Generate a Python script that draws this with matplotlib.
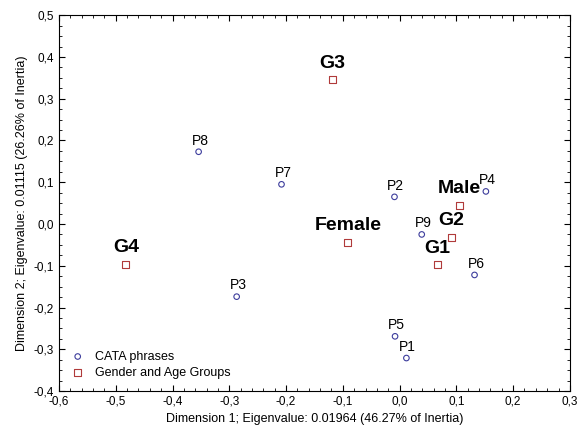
import matplotlib
matplotlib.use("Agg")
import matplotlib.pyplot as plt
from matplotlib.ticker import MultipleLocator, AutoMinorLocator, FuncFormatter

plt.rcParams['font.family'] = ['Liberation Sans', 'DejaVu Sans']

# CATA phrases (row points)
phrase_labels = ["P1", "P2", "P3", "P4", "P5", "P6", "P7", "P8", "P9"]
phrase_x = [0.012, -0.009, -0.287, 0.152, -0.008, 0.132, -0.208, -0.354, 0.039]
phrase_y = [-0.321, 0.065, -0.174, 0.078, -0.269, -0.122, 0.095, 0.173, -0.025]

# Gender and age groups (column points)
group_labels = ["G1", "G2", "G3", "G4", "Male", "Female"]
group_x = [0.066, 0.091, -0.118, -0.482, 0.106, -0.091]
group_y = [-0.098, -0.032, 0.345, -0.097, 0.045, -0.044]

fig = plt.figure(figsize=(5.78, 4.34), dpi=100)
ax = fig.add_axes([0.102, 0.099, 0.884, 0.866])

ax.scatter(phrase_x, phrase_y, marker='o', s=16, facecolors='none',
           edgecolors='#3c3c9c', linewidths=0.8, label='CATA phrases', zorder=3)
ax.scatter(group_x, group_y, marker='s', s=26, facecolors='none',
           edgecolors='#b03a3a', linewidths=0.8, label='Gender and Age Groups', zorder=3)

for lab, x, y in zip(phrase_labels, phrase_x, phrase_y):
    ax.annotate(lab, (x, y), xytext=(1, 3), textcoords='offset points',
                ha='center', va='bottom', fontsize=10)
for lab, x, y in zip(group_labels, group_x, group_y):
    ax.annotate(lab, (x, y), xytext=(0, 6), textcoords='offset points',
                ha='center', va='bottom', fontsize=14, fontweight='bold')

ax.set_xlim(-0.6, 0.3)
ax.set_ylim(-0.4, 0.5)
ax.xaxis.set_major_locator(MultipleLocator(0.1))
ax.yaxis.set_major_locator(MultipleLocator(0.1))
ax.xaxis.set_minor_locator(AutoMinorLocator(5))
ax.yaxis.set_minor_locator(AutoMinorLocator(4))
comma = FuncFormatter(lambda v, p: f"{v:.1f}".replace('.', ',').replace('-0,0', '0,0'))
ax.xaxis.set_major_formatter(comma)
ax.yaxis.set_major_formatter(comma)
ax.tick_params(which='both', direction='in', top=True, right=True, labelsize=8.5)
ax.tick_params(which='major', length=4)
ax.tick_params(which='minor', length=2)
for sp in ax.spines.values():
    sp.set_linewidth(0.8)

ax.set_xlabel("Dimension 1; Eigenvalue: 0.01964 (46.27% of Inertia)", fontsize=9)
ax.set_ylabel("Dimension 2; Eigenvalue: 0.01115 (26.26% of Inertia)", fontsize=9)

ax.legend(loc='lower left', bbox_to_anchor=(0.0, 0.0), frameon=False,
          fontsize=9, handlelength=1.0, handletextpad=0.9, labelspacing=0.3,
          borderaxespad=0.6)

fig.savefig("out.png", dpi=100)
